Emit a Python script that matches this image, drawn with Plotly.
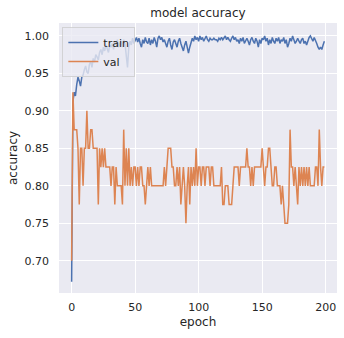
import plotly.graph_objects as go

epochs = list(range(200))

train_acc = [
    0.672, 0.912, 0.925, 0.920, 0.935, 0.945, 0.940, 0.933, 0.945, 0.948,
    0.955, 0.960, 0.952, 0.950, 0.962, 0.966, 0.958, 0.970, 0.965, 0.975,
    0.972, 0.968, 0.978, 0.982, 0.975, 0.985, 0.980, 0.988, 0.983, 0.978,
    0.988, 0.985, 0.990, 0.982, 0.992, 0.988, 0.995, 0.985, 0.990, 0.993,
    0.985, 0.995, 0.990, 0.975, 0.958, 0.985, 0.993, 0.988, 0.997, 0.990,
    0.995, 0.998, 0.992, 0.997, 0.990, 0.985, 0.995, 0.990, 0.998, 0.992,
    0.990, 0.997, 0.988, 0.995, 0.990, 0.998, 0.993, 0.985, 0.997, 1.000,
    0.995, 0.998, 0.992, 0.995, 0.990, 0.985, 0.993, 0.997, 0.988, 0.982,
    0.992, 0.995, 0.990, 0.985, 0.993, 0.997, 0.990, 0.985, 0.980, 0.988,
    0.993, 0.985, 0.977, 0.985, 0.990, 0.997, 0.993, 1.000, 0.995, 0.998,
    0.993, 1.000, 0.995, 0.998, 0.993, 0.997, 1.000, 0.995, 0.993, 0.997,
    0.995, 0.995, 0.997, 0.995, 0.995, 0.993, 0.997, 0.995, 0.998, 0.995,
    0.997, 1.000, 0.995, 0.998, 0.995, 0.993, 0.997, 1.000, 0.995, 0.998,
    0.993, 0.995, 0.990, 0.997, 0.993, 0.998, 0.990, 0.995, 0.997, 0.993,
    0.988, 0.995, 0.998, 0.993, 0.990, 0.997, 0.993, 0.985, 0.995, 0.990,
    0.997, 0.995, 1.000, 0.993, 0.997, 0.988, 0.995, 0.990, 0.998, 0.993,
    0.990, 0.997, 0.993, 0.998, 0.990, 0.995, 0.993, 0.998, 0.990, 0.995,
    0.985, 0.990, 0.997, 0.993, 1.000, 0.995, 0.990, 0.993, 0.997, 0.993,
    0.990, 0.995, 0.997, 0.990, 0.993, 0.988, 0.995, 0.998, 1.000, 0.997,
    0.993, 0.998, 0.995, 0.990, 0.985, 0.982, 0.985, 0.982, 0.988, 0.993,
]

val_acc = [
    0.700, 0.925, 0.875, 0.875, 0.875, 0.850, 0.775, 0.850, 0.850, 0.800,
    0.850, 0.850, 0.900, 0.850, 0.850, 0.875, 0.875, 0.850, 0.850, 0.850,
    0.850, 0.775, 0.850, 0.825, 0.850, 0.825, 0.850, 0.825, 0.825, 0.825,
    0.825, 0.800, 0.825, 0.825, 0.775, 0.825, 0.800, 0.800, 0.800, 0.800,
    0.775, 0.875, 0.800, 0.850, 0.800, 0.850, 0.800, 0.825, 0.800, 0.825,
    0.825, 0.800, 0.825, 0.800, 0.825, 0.825, 0.800, 0.800, 0.775, 0.800,
    0.825, 0.800, 0.825, 0.800, 0.800, 0.800, 0.800, 0.800, 0.800, 0.800,
    0.800, 0.800, 0.800, 0.825, 0.800, 0.825, 0.850, 0.850, 0.850, 0.825,
    0.825, 0.800, 0.800, 0.825, 0.800, 0.825, 0.775, 0.800, 0.825, 0.800,
    0.750, 0.800, 0.825, 0.775, 0.825, 0.800, 0.825, 0.800, 0.850, 0.800,
    0.825, 0.825, 0.800, 0.825, 0.825, 0.800, 0.825, 0.825, 0.825, 0.800,
    0.825, 0.825, 0.800, 0.800, 0.800, 0.800, 0.800, 0.800, 0.825, 0.775,
    0.775, 0.800, 0.800, 0.800, 0.775, 0.775, 0.775, 0.800, 0.825, 0.825,
    0.825, 0.825, 0.800, 0.825, 0.825, 0.825, 0.825, 0.825, 0.850, 0.825,
    0.825, 0.800, 0.825, 0.800, 0.825, 0.825, 0.825, 0.825, 0.825, 0.825,
    0.850, 0.825, 0.800, 0.825, 0.825, 0.850, 0.850, 0.825, 0.800, 0.800,
    0.825, 0.825, 0.800, 0.800, 0.800, 0.775, 0.800, 0.775, 0.750, 0.750,
    0.750, 0.775, 0.875, 0.825, 0.825, 0.800, 0.825, 0.800, 0.775, 0.825,
    0.800, 0.825, 0.800, 0.825, 0.800, 0.825, 0.800, 0.825, 0.800, 0.800,
    0.800, 0.800, 0.825, 0.825, 0.800, 0.875, 0.825, 0.800, 0.825, 0.825,
]

x_ticks = [0, 50, 100, 150, 200]
y_ticks = [0.70, 0.75, 0.80, 0.85, 0.90, 0.95, 1.00]

TEXT = "#262626"
FONT = "DejaVu Sans"

fig = go.Figure()
fig.add_trace(go.Scatter(x=epochs, y=train_acc, mode="lines", name="train",
                         line=dict(color="#4C72B0", width=1.5)))
fig.add_trace(go.Scatter(x=epochs, y=val_acc, mode="lines", name="val",
                         line=dict(color="#DD8452", width=1.5)))

fig.update_layout(
    width=344, height=338,
    margin=dict(l=59, r=7, t=23, b=45),
    paper_bgcolor="white",
    plot_bgcolor="#EAEAF2",
    font=dict(family=FONT, size=11, color=TEXT),
    title=dict(text="model accuracy", x=0.5755, xanchor="center",
               y=0.962, yanchor="middle", font=dict(size=12, color=TEXT)),
    showlegend=True,
    legend=dict(x=0.012, y=0.985, xanchor="left", yanchor="top",
                bgcolor="rgba(234,234,242,0.8)", bordercolor="rgba(204,204,204,0.8)",
                borderwidth=1, font=dict(size=11, color=TEXT),
                tracegroupgap=0, itemwidth=30),
    xaxis=dict(range=[-9.95, 208.95], tickvals=x_ticks, ticktext=[str(v) for v in x_ticks],
               showgrid=True, gridcolor="white", gridwidth=1, zeroline=False,
               showline=False, ticks="", ticklabelstandoff=6,
               title=dict(text="epoch", font=dict(size=12, color=TEXT), standoff=4)),
    yaxis=dict(range=[0.657, 1.0173], tickvals=y_ticks, ticktext=[f"{v:.2f}" for v in y_ticks],
               showgrid=True, gridcolor="white", gridwidth=1, zeroline=False,
               showline=False, ticks="", ticklabelstandoff=9,
               title=dict(text="accuracy", font=dict(size=12, color=TEXT), standoff=4)),
)

fig.write_html("out.html")
